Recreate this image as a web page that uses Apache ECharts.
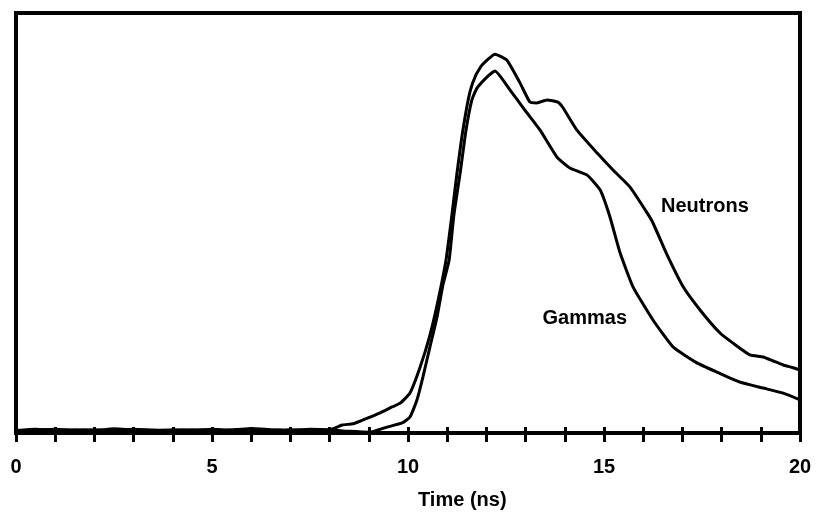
<!DOCTYPE html>
<html>
<head>
<meta charset="utf-8">
<script src="https://cdn.jsdelivr.net/npm/echarts@6/dist/echarts.min.js"></script>
<style>
  html, body { margin: 0; padding: 0; background: #fff; }
  #chart { width: 817px; height: 517px; }
</style>
</head>
<body>
<div id="chart"></div>
<script>
// Time axis (ns) and detector response (arbitrary units) for each particle type
const neutronTime = [0.0, 0.5, 1.0, 1.5, 2.0, 2.5, 3.0, 3.5, 4.0, 4.5, 5.0, 5.5, 6.0, 6.5, 7.0, 7.5, 8.0,
  8.32, 8.6, 8.85, 9.29, 9.59, 9.80, 10.05, 10.31, 10.56, 10.77, 10.97, 11.12, 11.25, 11.4, 11.58,
  11.73, 11.89, 12.22, 12.52, 12.86, 13.11, 13.29, 13.55, 13.82, 13.95, 14.31, 14.82, 15.23, 15.66,
  16.10, 16.25, 16.61, 17.02, 17.45, 17.96, 18.29, 18.72, 19.06, 19.3, 19.57, 19.8, 20.0];
const neutronSignal = [0.6, 0.9, 0.5, 0.8, 0.6, 1.0, 0.7, 0.5, 0.8, 0.6, 0.9, 0.7, 1.1, 0.8, 0.6, 0.9, 0.8,
  1.9, 2.2, 3.1, 4.8, 6.2, 7.1, 9.5, 15.7, 23.3, 31.7, 41.2, 51.9, 61.9, 72.1, 81.2,
  85.2, 87.6, 90.2, 88.8, 83.3, 78.8, 78.6, 79.3, 78.8, 77.5, 72.1, 66.7, 62.6, 58.6,
  52.4, 50.0, 42.4, 34.8, 29.3, 23.8, 21.4, 18.6, 18.1, 17.2, 16.2, 15.6, 15.0];

const gammaTime = [0.0, 0.5, 1.0, 1.5, 2.0, 2.5, 3.0, 3.5, 4.0, 4.5, 5.0, 5.5, 6.0, 6.5, 7.0, 7.5, 8.0, 8.5,
  9.03, 9.46, 9.85, 10.05, 10.23, 10.38, 10.56, 10.74, 10.89, 11.05, 11.17, 11.33, 11.48, 11.63,
  11.76, 12.02, 12.22, 12.60, 12.98, 13.37, 13.80, 14.13, 14.57, 14.90, 15.15, 15.41, 15.74,
  16.25, 16.76, 17.37, 17.88, 18.47, 19.06, 19.57, 20.0];
const gammaSignal = [0.5, 0.7, 0.9, 0.6, 0.8, 0.5, 0.9, 0.7, 0.6, 0.8, 0.5, 0.7, 0.9, 0.6, 0.8, 0.5, 0.7, 0.4,
  0.2, 1.4, 2.4, 3.8, 7.9, 13.3, 20.5, 27.6, 35.2, 41.2, 51.9, 61.9, 72.1, 79.3,
  82.1, 84.8, 86.2, 81.7, 76.9, 72.1, 65.7, 63.1, 61.4, 57.9, 51.5, 42.9, 34.8,
  26.9, 20.5, 16.7, 14.5, 12.1, 10.7, 9.5, 7.9];

const xLabelStep = 5;

function pairs(xs, ys) {
  return xs.map((x, i) => [x, ys[i]]);
}

const chart = echarts.init(document.getElementById('chart'), null, { renderer: 'canvas' });
const font = '"Liberation Sans", Arial, Helvetica, sans-serif';

chart.setOption({
  animation: false,
  backgroundColor: '#ffffff',
  grid: {
    left: 16, right: 17, top: 13, bottom: 84,
    show: true, borderColor: '#000', borderWidth: 4, backgroundColor: 'transparent'
  },
  xAxis: [
    {
      type: 'value', min: 0, max: 20, interval: 1,
      axisLine: { show: true, lineStyle: { color: '#000', width: 3 } },
      axisTick: { show: true, length: 9, lineStyle: { color: '#000', width: 3 } },
      splitLine: { show: false },
      axisLabel: {
        margin: 24, color: '#000', fontFamily: font, fontWeight: 'bold', fontSize: 20,
        formatter: v => (v % xLabelStep === 0 ? String(v) : '')
      }
    },
    {
      type: 'value', min: 0, max: 20, interval: 1, position: 'bottom',
      axisLine: { show: false },
      axisTick: { show: true, inside: true, length: 6, lineStyle: { color: '#000', width: 3 } },
      splitLine: { show: false },
      axisLabel: { show: false }
    }
  ],
  yAxis: {
    type: 'value', min: 0, max: 100,
    axisLine: { show: false }, axisTick: { show: false },
    axisLabel: { show: false }, splitLine: { show: false }
  },
  series: [
    {
      name: 'Neutrons', type: 'line', data: pairs(neutronTime, neutronSignal),
      showSymbol: false, smooth: 0.15,
      lineStyle: { color: '#000', width: 3 }
    },
    {
      name: 'Gammas', type: 'line', data: pairs(gammaTime, gammaSignal),
      showSymbol: false, smooth: 0.15,
      lineStyle: { color: '#000', width: 3 }
    }
  ],
  graphic: [
    {
      type: 'text', left: 661, top: 196,
      style: { text: 'Neutrons', font: 'bold 20px ' + font, fill: '#000' }
    },
    {
      type: 'text', right: 190, top: 308,
      style: { text: 'Gammas', font: 'bold 20px ' + font, fill: '#000' }
    },
    {
      type: 'text', left: 418, top: 490,
      style: { text: 'Time (ns)', font: 'bold 20px ' + font, fill: '#000', textAlign: 'center' }
    }
  ]
});
</script>
</body>
</html>
